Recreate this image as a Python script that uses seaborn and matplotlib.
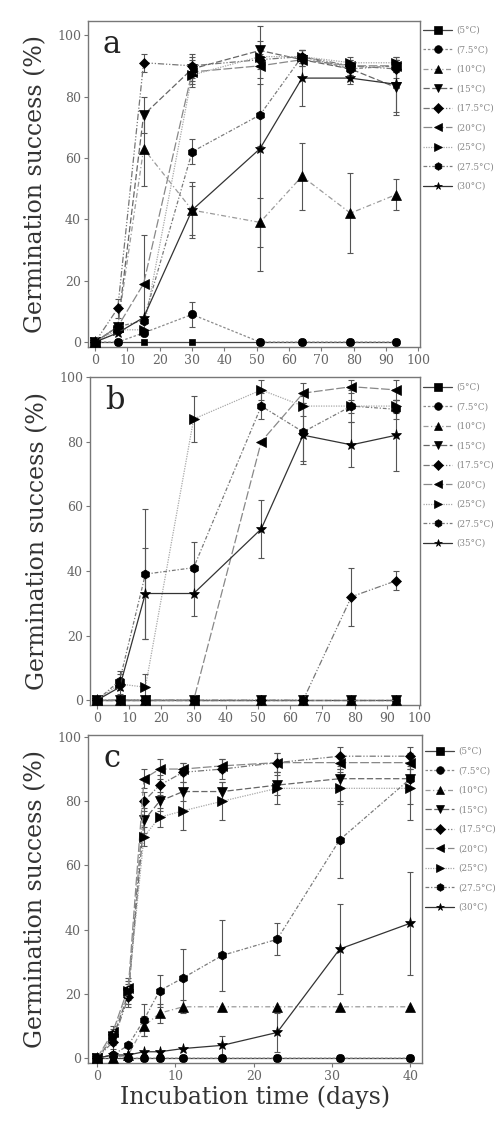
import numpy as np
import pandas as pd
import matplotlib
matplotlib.use("Agg")
import matplotlib.pyplot as plt
import seaborn as sns

sns.set_style("ticks")
plt.rcParams['font.family'] = ['DejaVu Serif']

labels_a = ["(5°C)", "(7.5°C)", "(10°C)", "(15°C)", "(17.5°C)", "(20°C)", "(25°C)", "(27.5°C)", "(30°C)"]
labels_b = ["(5°C)", "(7.5°C)", "(10°C)", "(15°C)", "(17.5°C)", "(20°C)", "(25°C)", "(27.5°C)", "(35°C)"]
labels_c = ["(5°C)", "(7.5°C)", "(10°C)", "(15°C)", "(17.5°C)", "(20°C)", "(25°C)", "(27.5°C)", "(30°C)"]

days_ab = [0, 7, 15, 30, 51, 64, 79, 93]
days_c = [0, 2, 4, 6, 8, 11, 16, 23, 31, 40]

# Panel a values
a_5 = [0, 0, 0, 0, 0, 0, 0, 0]
a_75 = [0, 0, 3, 9, 0, 0, 0, 0]
a_10 = [0, 5, 63, 43, 39, 54, 42, 48]
a_15 = [0, 5, 74, 89, 95, 92, 89, 83]
a_175 = [0, 11, 91, 90, 92, 93, 90, 89]
a_20 = [0, 5, 19, 88, 90, 92, 90, 90]
a_25 = [0, 4, 4, 87, 93, 93, 91, 91]
a_275 = [0, 5, 7, 62, 74, 93, 89, 90]
a_30 = [0, 3, 8, 43, 63, 86, 86, 84]
# Panel a errors
ae_5 = [0, 0, 0, 0, 0, 0, 0, 0]
ae_75 = [0, 0, 0, 4, 0, 0, 0, 0]
ae_10 = [0, 0, 12, 8, 8, 11, 13, 5]
ae_15 = [0, 0, 6, 4, 3, 2, 2, 9]
ae_175 = [0, 3, 3, 4, 3, 2, 2, 3]
ae_20 = [0, 0, 16, 4, 4, 2, 2, 2]
ae_25 = [0, 0, 0, 4, 3, 2, 2, 2]
ae_275 = [0, 0, 0, 4, 10, 2, 2, 2]
ae_30 = [0, 0, 0, 9, 40, 9, 2, 9]

# Panel b values
b_5 = [0, 0, 0, 0, 0, 0, 0, 0]
b_75 = [0, 0, 0, 0, 0, 0, 0, 0]
b_10 = [0, 0, 0, 0, 0, 0, 0, 0]
b_15 = [0, 0, 0, 0, 0, 0, 0, 0]
b_175 = [0, 0, 0, 0, 0, 0, 32, 37]
b_20 = [0, 0, 0, 0, 80, 95, 97, 96]
b_25 = [0, 5, 4, 87, 96, 91, 91, 91]
b_275 = [0, 6, 39, 41, 91, 83, 91, 90]
b_35 = [0, 4, 33, 33, 53, 82, 79, 82]
# Panel b errors
be_5 = [0, 0, 0, 0, 0, 0, 0, 0]
be_75 = [0, 0, 0, 0, 0, 0, 0, 0]
be_10 = [0, 0, 0, 0, 0, 0, 0, 0]
be_15 = [0, 0, 0, 0, 0, 0, 0, 0]
be_175 = [0, 0, 0, 0, 0, 0, 9, 3]
be_20 = [0, 0, 0, 0, 0, 3, 2, 3]
be_25 = [0, 3, 4, 7, 3, 3, 2, 2]
be_275 = [0, 3, 20, 8, 4, 9, 5, 3]
be_35 = [0, 0, 14, 7, 9, 9, 7, 11]

# Panel c values
c_5 = [0, 0, 0, 0, 0, 0, 0, 0, 0, 0]
c_75 = [0, 1, 0, 0, 0, 0, 0, 0, 0, 0]
c_10 = [0, 0, 1, 10, 14, 16, 16, 16, 16, 16]
c_15 = [0, 6, 20, 74, 80, 83, 83, 85, 87, 87]
c_175 = [0, 5, 19, 80, 85, 89, 90, 92, 94, 94]
c_20 = [0, 8, 22, 87, 90, 90, 91, 92, 92, 92]
c_25 = [0, 7, 21, 69, 75, 77, 80, 84, 84, 84]
c_275 = [0, 1, 4, 12, 21, 25, 32, 37, 68, 87]
c_30 = [0, 1, 1, 2, 2, 3, 4, 8, 34, 42]
# Panel c errors
ce_5 = [0, 0, 0, 0, 0, 0, 0, 0, 0, 0]
ce_75 = [0, 0, 0, 0, 0, 0, 0, 0, 0, 0]
ce_10 = [0, 0, 0, 3, 3, 2, 0, 0, 0, 0]
ce_15 = [0, 2, 3, 4, 3, 3, 3, 3, 3, 3]
ce_175 = [0, 2, 3, 3, 3, 3, 3, 3, 3, 3]
ce_20 = [0, 2, 3, 3, 3, 2, 2, 3, 2, 2]
ce_25 = [0, 2, 3, 3, 3, 6, 6, 5, 5, 10]
ce_275 = [0, 0, 0, 5, 5, 9, 11, 5, 12, 8]
ce_30 = [0, 0, 0, 0, 0, 0, 3, 6, 14, 16]

markers = ["s", "o", "^", "v", "D", "<", ">", "h", "*"]
msizes = [5, 6, 6.5, 6.5, 5.5, 6.5, 6.5, 6.5, 8]
styles = ["-", (0, (2, 1.5)), (0, (4, 2, 1, 2)), (0, (5, 2)), (0, (5, 1.5, 1, 1.5, 1, 1.5)),
          (0, (7, 2)), (0, (1, 1)), (0, (3, 1.5, 1, 1.5)), "-"]
lcolors = ["#444444", "#8a8a8a", "#9a9a9a", "#666666", "#777777", "#888888", "#a8a8a8", "#7a7a7a", "#333333"]

panels = [
    dict(days=days_ab, vals=[a_5, a_75, a_10, a_15, a_175, a_20, a_25, a_275, a_30],
         errs=[ae_5, ae_75, ae_10, ae_15, ae_175, ae_20, ae_25, ae_275, ae_30],
         labels=labels_a, letter="a", rect=(88, 21, 420, 347), xlim=(-2.2, 100.5), ylim=(-1.6, 104.6),
         xticks=list(range(0, 101, 10)), leg_top=26),
    dict(days=days_ab, vals=[b_5, b_75, b_10, b_15, b_175, b_20, b_25, b_275, b_35],
         errs=[be_5, be_75, be_10, be_15, be_175, be_20, be_25, be_275, be_35],
         labels=labels_b, letter="b", rect=(90, 377, 420, 705), xlim=(-2.2, 100.3), ylim=(-1.5, 100),
         xticks=list(range(0, 101, 10)), leg_top=383),
    dict(days=days_c, vals=[c_5, c_75, c_10, c_15, c_175, c_20, c_25, c_275, c_30],
         errs=[ce_5, ce_75, ce_10, ce_15, ce_175, ce_20, ce_25, ce_275, ce_30],
         labels=labels_c, letter="c", rect=(88, 735, 422, 1063), xlim=(-1.15, 41.5), ylim=(-1.5, 100.6),
         xticks=list(range(0, 41, 10)), leg_top=747),
]

W, H = 501, 1127
fig = plt.figure(figsize=(W / 100, H / 100), dpi=100)

for p in panels:
    l, t, r, b = p["rect"]
    ax = fig.add_axes([l / W, 1 - b / H, (r - l) / W, (b - t) / H])
    handles = []
    for i, (vals, errs) in enumerate(zip(p["vals"], p["errs"])):
        n0 = len(ax.lines)
        df = pd.DataFrame({"day": p["days"], "val": vals})
        sns.lineplot(data=df, x="day", y="val", ax=ax, color=lcolors[i], linestyle=styles[i],
                     linewidth=0.9, marker=markers[i], markersize=msizes[i],
                     markerfacecolor="black", markeredgecolor="black", markeredgewidth=0.5,
                     legend=False, zorder=3)
        handles.append(ax.lines[n0])
        d = np.array(p["days"], dtype=float)
        v = np.array(vals, dtype=float)
        e = np.array(errs, dtype=float)
        m = e > 0
        if m.any():
            ax.errorbar(d[m], v[m], yerr=e[m], fmt="none", ecolor="#555555",
                        elinewidth=0.8, capsize=2.5, capthick=0.8, zorder=2)
    ax.set_xlim(*p["xlim"])
    ax.set_ylim(*p["ylim"])
    ax.set_xticks(p["xticks"])
    ax.set_yticks([0, 20, 40, 60, 80, 100])
    ax.set_xlabel("")
    for s in ax.spines.values():
        s.set_color("#777777")
        s.set_linewidth(1.0)
    ax.tick_params(axis="both", direction="out", length=3, width=0.8, color="#777777",
                   labelsize=9, labelcolor="#666666", pad=2)
    ax.text(0.045, 0.975, p["letter"], transform=ax.transAxes, fontsize=22,
            va="top", ha="left", color="#222222")
    ax.set_ylabel("Germination success (%)", fontsize=17, color="#333333", labelpad=7)
    leg = ax.legend(handles, p["labels"], loc="upper left",
                    bbox_to_anchor=(1.01, 1 - (p["leg_top"] - t) / (b - t)),
                    frameon=False, fontsize=6.3, labelcolor="#888888",
                    handlelength=3.3, handletextpad=0.5, labelspacing=1.2,
                    borderaxespad=0, borderpad=0)
    for h in leg.legend_handles:
        h.set_markersize(5.5)
    if p["letter"] == "c":
        ax.set_xlabel("Incubation time (days)", fontsize=17, color="#333333", labelpad=2)

fig.savefig("out.png", dpi=100, facecolor="white")
